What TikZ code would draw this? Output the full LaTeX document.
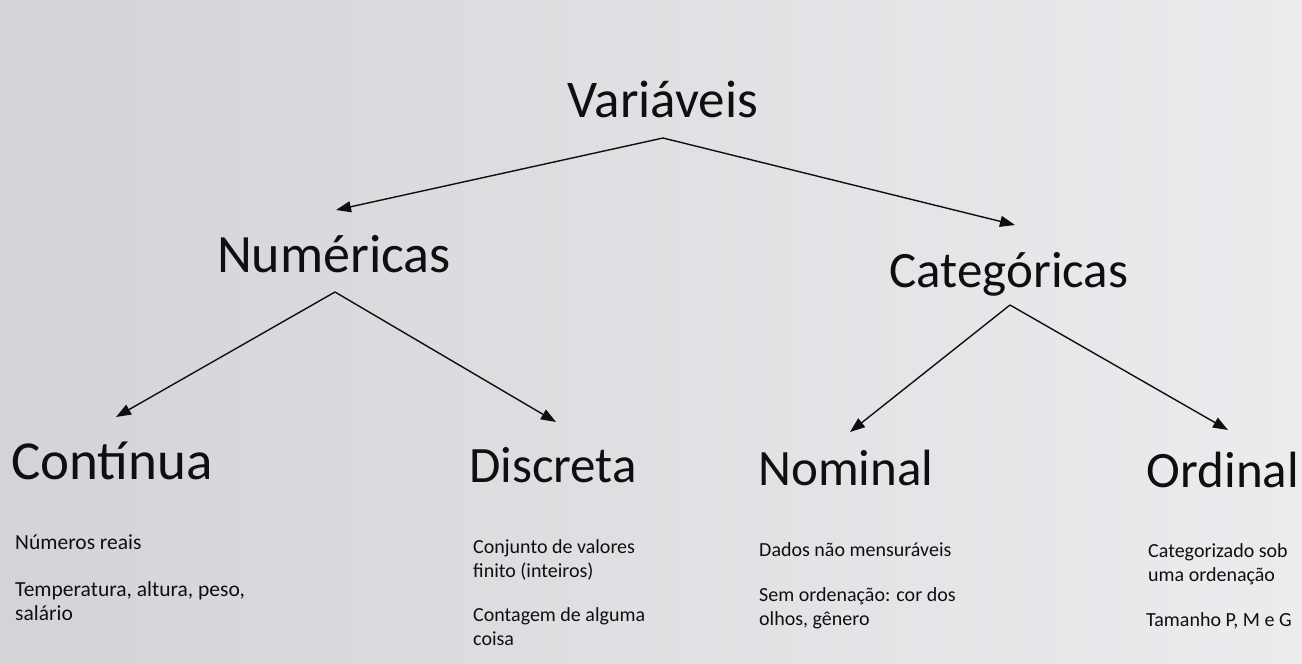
\documentclass[tikz,border=0pt]{standalone}
\usepackage{fontspec}
\setmainfont{Carlito}
\usetikzlibrary{arrows.meta,calc}
\definecolor{bgL}{RGB}{212,212,216}
\definecolor{bgR}{RGB}{236,235,238}
\definecolor{ink}{RGB}{15,15,17}
\tikzset{
  title/.style={font=\fontsize{51}{60}\selectfont, text=ink, inner sep=0pt, anchor=base},
  note/.style={font=\fontsize{20}{24}\selectfont, text=ink, inner sep=0pt, anchor=base west, align=left},
  bignote/.style={note, font=\fontsize{21.5}{24}\selectfont},
  arr/.style={draw=ink, line width=1.4pt, -{Triangle[length=15pt,width=11pt]}}
}
\begin{document}
\begin{tikzpicture}[x=1pt,y=-1pt]
\shade[left color=bgL, right color=bgR] (0,0) rectangle (1302,664);
\useasboundingbox (0,0) rectangle (1302,664);

\node[title, font=\fontsize{53}{60}\selectfont] (var) at (663,117) {Variáveis};
\node[title, font=\fontsize{54}{60}\selectfont] (num) at (334,272) {Numéricas};
\node[title] (cat) at (1009,287) {Categóricas};
\node[title, font=\fontsize{55}{60}\selectfont] (con) at (112,479) {Contínua};
\node[title] (dis) at (553,482) {Discreta};
\node[title] (nom) at (846,485) {Nominal};
\node[title] (ord) at (1223,487) {Ordinal};

\draw[arr] ($(var.base)+(0,21)$) -- ($(num.base)+(2,-62)$);
\draw[arr] ($(var.base)+(0,21)$) -- ($(cat.base)+(6,-62)$);
\draw[arr] ($(num.base)+(1,20)$) -- ($(con.base)+(4,-62)$);
\draw[arr] ($(num.base)+(1,20)$) -- ($(dis.base)+(3,-60)$);
\draw[arr] ($(cat.base)+(1,18)$) -- ($(nom.base)+(4,-53)$);
\draw[arr] ($(cat.base)+(1,18)$) -- ($(ord.base)+(5,-57)$);

% base anchor of a multi-line note sits on its last line
\node[bignote] (conN1) at (15,549) {Números reais};
\node[bignote] (conN2) at (15,620) {Temperatura, altura, peso,\\salário};
\node[note] (disN1) at (473,577) {Conjunto de valores\\finito (inteiros)};
\node[note] (disN2) at (473,645) {Contagem de alguma\\coisa};
\node[note] (nomN1) at (759,556) {Dados não mensuráveis};
\node[note] (nomN2) at (759,625) {Sem ordenação: cor dos\\olhos, gênero};
\node[note] (ordN1) at (1148,581) {Categorizado sob\\uma ordenação};
\node[note] (ordN2) at (1146,626) {Tamanho P, M e G};
\end{tikzpicture}
\end{document}
